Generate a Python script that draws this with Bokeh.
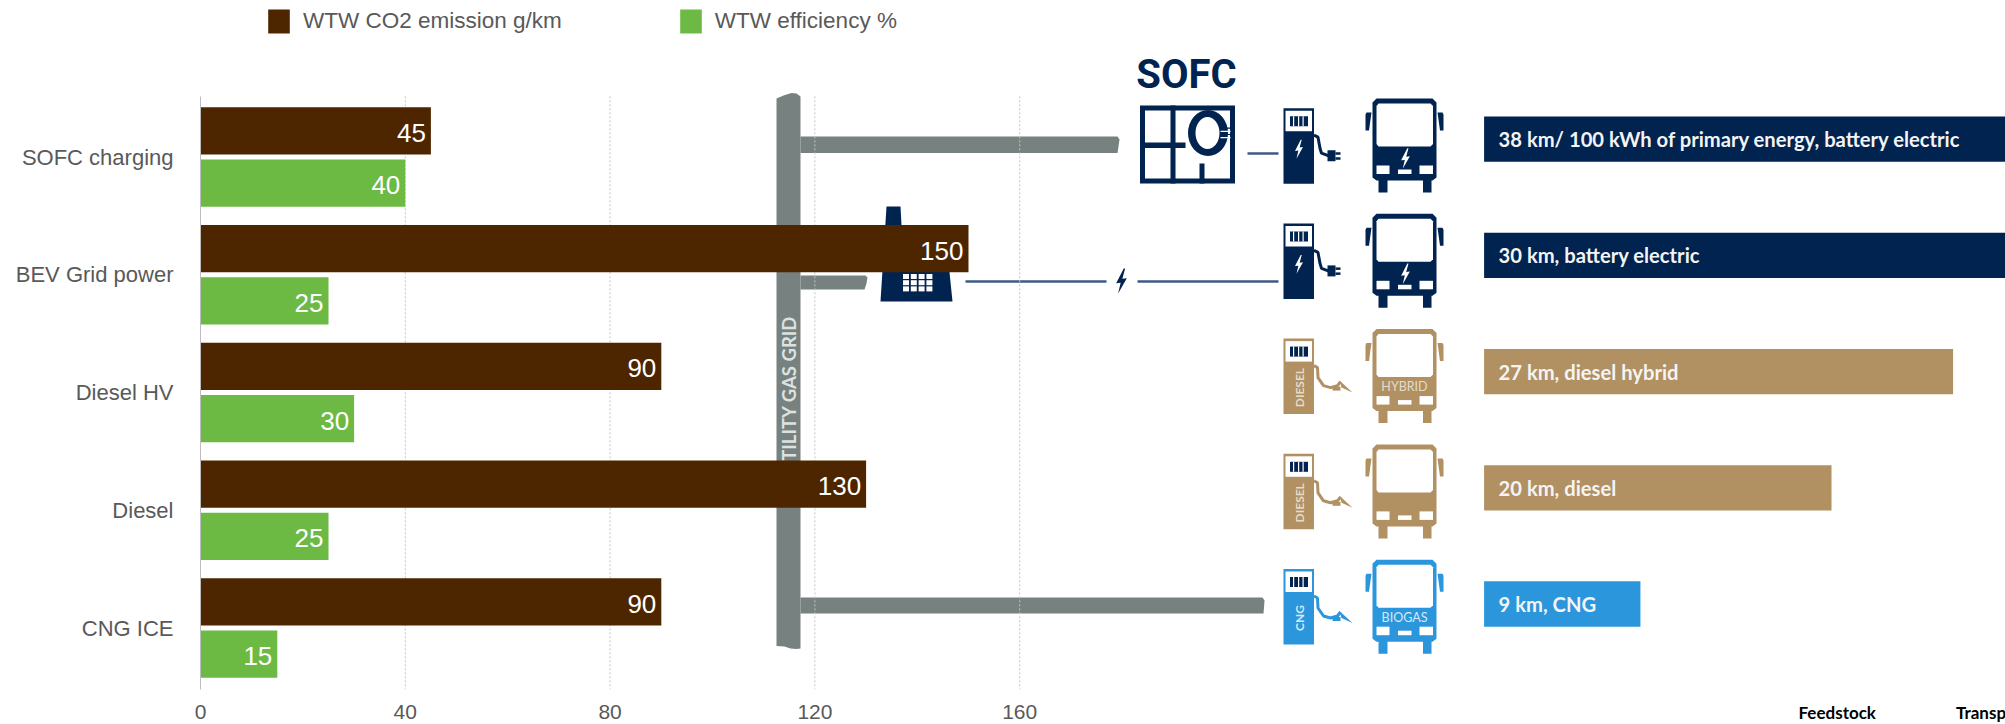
import numpy as np
from bokeh.core.properties import value
from bokeh.embed import file_html
from bokeh.models import ColumnDataSource, FixedTicker, LinearAxis, Range1d
from bokeh.plotting import figure
from bokeh.resources import INLINE

# Well-to-wheel comparison per powertrain
categories = ["SOFC charging", "BEV Grid power", "Diesel HV", "Diesel", "CNG ICE"]
co2_emission = [45, 150, 90, 130, 90]
efficiency = [40, 25, 30, 25, 15]
value_ticks = [0, 40, 80, 120, 160]

# Range per 100 kWh of primary energy, for each pathway
route_km = [38, 30, 27, 20, 9]
route_labels = [
    "38 km/ 100 kWh of primary energy, battery electric",
    "30 km, battery electric",
    "27 km, diesel hybrid",
    "20 km, diesel",
    "9 km, CNG",
]

BROWN, GREEN = "#4d2600", "#6cb943"
NAVY, TAN, BLUE = "#00234f", "#b19062", "#2c96dc"
PIPE, WIRE, GREY_TEXT = "#778280", "#3f5a85", "#595959"
route_colors = [NAVY, NAVY, TAN, TAN, BLUE]

# The frame fills the page down to its lower edge; the value axis labels sit inside it
W, H, LEFT = 2005, 724, 200
FRAME_H = H

p = figure(
    width=W, height=H, output_backend="svg", toolbar_location=None,
    x_range=Range1d(0, (W - LEFT) / 5.12),
    y_range=Range1d((FRAME_H - 156.5) / 117.75, -156.5 / 117.75),
    min_border_left=LEFT, min_border_right=0, min_border_top=0, min_border_bottom=0,
    x_axis_type=None, y_axis_type=None,
)
p.outline_line_color = None
p.grid.visible = False
p.background_fill_color = "white"

# Extra scales: page pixels for the pictograms, km for the range bars
p.extra_x_ranges["px"] = Range1d(LEFT, W)
p.extra_y_ranges["px"] = Range1d(FRAME_H, 0)
km_zero, km_scale = 1483.6, 17.37
p.extra_x_ranges["km"] = Range1d((LEFT - km_zero) / km_scale, (W - km_zero) / km_scale)
p.extra_y_ranges["route"] = Range1d((FRAME_H - 138.7) / 116.2, -138.7 / 116.2)

PX = dict(x_range_name="px", y_range_name="px")


def poly(xs, ys, color):
    p.patch(list(xs), list(ys), fill_color=color, line_color=None, **PX)


def box(x0, y0, x1, y1, color):
    p.quad(left=x0, right=x1, top=y0, bottom=y1, fill_color=color, line_color=None, **PX)


def line(xs, ys, color, width):
    p.line(list(xs), list(ys), line_color=color, line_width=width, **PX)


def caption(x, y, text, color, size, font="Lato", style="bold", align="center", angle=0.0):
    p.text([x], [y], text=[text], text_color=color, text_font=value(font),
           text_font_size=size, text_font_style=style, text_align=align,
           text_baseline="middle", angle=angle, **PX)


def bolt(cx, cy, scale, color):
    dx = np.array([1.6, -3.8, -0.6, -2.4, 3.8, 0.6, 2.6]) * scale
    dy = np.array([-9.0, 1.6, 1.2, 9.0, -2.0, -1.6, -9.0]) * scale
    poly(cx + dx, cy + dy, color)


def pump(top, color, tag):
    x0, x1 = 1283.0, 1313.5
    box(x0, top, x1, top + 75.5, color)
    box(x0 + 2, top + 2.5, x1 - 2, top + 23, "white")
    box(x0 + 6.5, top + 8, x1 - 6, top + 18, NAVY)
    for shift in (9.5, 14.5, 19):
        box(x0 + shift, top + 8, x0 + shift + 1.2, top + 18, "white")
    if tag is None:
        bolt(1298.5, top + 41, 1.05, "white")
        line([x1, 1317.5, 1319.5, 1321, 1329], [top + 27, top + 29, top + 40, top + 45, top + 48], color, 3)
        box(1327, top + 42, 1335, top + 53, color)
        box(1335, top + 44, 1340, top + 46.5, color)
        box(1335, top + 49, 1340, top + 51.5, color)
    else:
        caption(1298.5, top + 49, tag, "#e4dccb" if color == TAN else "#d5e9f8", "12px", angle=np.pi / 2)
        line([x1, 1317, 1317.5, 1323, 1330, 1337, 1340],
             [top + 27, top + 29, top + 39, top + 47, top + 49, top + 47, top + 43], color, 3)
        poly([1339, 1352, 1341], [top + 42, top + 54, top + 49], color)
        box(1332, top + 48, 1340, top + 52, color)


def bus(top, color, tag):
    x0 = 1372.0
    bx = x0 + np.array([4, 60, 64, 64, 60, 59, 59, 50.5, 50.5, 15, 15, 6, 6, 4, 0, 0, 4])
    by = top + np.array([0, 0, 4, 79, 82, 82, 94, 94, 82, 82, 94, 94, 82, 82, 79, 4, 0])
    poly(bx, by, color)
    wx = x0 + np.array([6, 58, 60.5, 60.5, 58, 6, 4, 4, 6])
    wy = top + np.array([5, 5, 7.5, 45.5, 48, 48, 45.5, 7.5, 5])
    poly(wx, wy, "white")
    box(x0 + 4, top + 67, x0 + 17, top + 75.5, "white")
    box(x0 + 25.5, top + 71, x0 + 39, top + 75.5, "white")
    box(x0 + 47, top + 67, x0 + 60.5, top + 75.5, "white")
    poly(x0 + np.array([-1, -6, -7, -7, -3.5, -2, -1]), top + np.array([14, 14, 16, 32, 32, 21, 14]), color)
    poly(x0 + np.array([65, 70, 71, 71, 67.5, 66, 65]), top + np.array([14, 14, 16, 32, 32, 21, 14]), color)
    if tag == "bolt":
        bolt(1405, top + 60, 1.15, "white")
    elif tag:
        caption(x0 + 32, top + 57.5, tag, "#e4dccb" if color == TAN else "#d5e9f8", "12.5px", style="normal")


# Gas grid: main pipe and its three branches
poly([776, 776, 783, 791, 796, 800, 800, 796, 790, 784, 776],
     [648, 98, 95, 92.5, 93, 96, 648, 648.5, 648, 646, 645.5], PIPE)
poly([800, 1117, 1119, 1118, 1117, 800], [136, 136, 139, 146, 152.5, 152.5], PIPE)
poly([800, 865, 867, 866, 864, 800], [275, 275, 277, 283, 289, 289], PIPE)
poly([800, 1262, 1264, 1263.5, 1263, 800], [597, 597, 600, 607, 613, 613], PIPE)
caption(788, 474, "UTILITY GAS GRID", "#dde2e1", "18.5px", style="bold", align="left", angle=np.pi / 2)

# SOFC unit
caption(1186, 74, "SOFC", NAVY, "40px", font="Roboto", style="bold")
box(1139.5, 105, 1234.5, 183, NAVY)
box(1144.5, 110, 1229.5, 178, "white")
box(1170, 105, 1175, 183, NAVY)
box(1139.5, 142, 1185, 147.5, NAVY)
box(1199, 163, 1204, 183, NAVY)
p.ellipse([1207.5], [132.5], width=[40], height=[46], fill_color=NAVY, line_color=None, **PX)
p.ellipse([1207], [132.5], width=[24], height=[32], fill_color="white", line_color=None, **PX)
for fin in range(4):
    box(1220, 127 + fin * 3.2, 1230, 128.2 + fin * 3.2, "white" if fin % 2 else NAVY)
line([1247, 1278], [153, 153], WIRE, 2.5)

# Power plant and the wire to the charger
poly([886, 900, 903, 948, 952, 880], [206, 206, 262, 262, 301, 301], NAVY)
for col in range(4):
    for row in range(3):
        box(902.5 + col * 7.8, 273.5 + row * 6.2, 908.5 + col * 7.8, 278.5 + row * 6.2, "white")
line([965, 1106], [281, 281], WIRE, 2.5)
line([1137, 1278], [281, 281], WIRE, 2.5)
bolt(1121, 280.5, 1.4, NAVY)

# One charger or pump and one bus per route
pump_tags = [None, None, "DIESEL", "DIESEL", "CNG"]
bus_tags = ["bolt", "bolt", "HYBRID", "", "BIOGAS"]
for i in range(5):
    pump(107.7 + 115.2 * i, route_colors[i], pump_tags[i])
    bus(98 + 115.3 * i, route_colors[i], bus_tags[i])

# Stage captions along the lower edge
caption(1798, 712, "Feedstock", "black", "17px", align="left")
caption(1955.5, 712, "Transp", "black", "17px", align="left")

# Dashed guides for the value axis
guide_ticks = value_ticks[1:]
p.segment(x0=guide_ticks, x1=guide_ticks, y0=[-0.515] * 4, y1=[4.52] * 4,
          line_color="#c4c4c4", line_width=1, line_dash="2 2")

# Grouped horizontal bars
ypos = np.arange(len(categories))
co2_src = ColumnDataSource(dict(y=ypos - 0.222, v=co2_emission, t=[str(v) for v in co2_emission]))
eff_src = ColumnDataSource(dict(y=ypos + 0.222, v=efficiency, t=[str(v) for v in efficiency]))
p.hbar(y="y", right="v", left=0, height=0.4, source=co2_src, fill_color=BROWN, line_color=None,
       legend_label="WTW CO2 emission g/km")
p.hbar(y="y", right="v", left=0, height=0.4, source=eff_src, fill_color=GREEN, line_color=None,
       legend_label="WTW efficiency %")
for src in (co2_src, eff_src):
    p.text(x="v", y="y", text="t", source=src, x_offset=-5, y_offset=2, text_color="white",
           text_align="right", text_baseline="middle", text_font=value("Liberation Sans"),
           text_font_size="26px")

# Range bars on the right
route_y = list(range(len(route_km)))
route_src = ColumnDataSource(dict(y=route_y, km=route_km, c=route_colors, t=route_labels))
p.hbar(y="y", right="km", left=0, height=0.39, source=route_src, fill_color="c", line_color=None,
       x_range_name="km", y_range_name="route")
p.text(x=0, y="y", text="t", source=route_src, x_offset=14.5, text_color="#f4f4f4", text_align="left",
       text_baseline="middle", text_font=value("Lato"), text_font_style="bold", text_font_size="20.2px",
       x_range_name="km", y_range_name="route")

# Axes; a negative standoff lifts the value labels back above the page edge
x_axis = LinearAxis(ticker=FixedTicker(ticks=value_ticks), axis_line_color=None,
                    major_tick_line_color=None, minor_tick_line_color=None,
                    major_label_text_color=GREY_TEXT, major_label_text_font="Liberation Sans",
                    major_label_text_font_size="21px", major_label_standoff=-26)
p.add_layout(x_axis, "below")
y_axis = LinearAxis(ticker=FixedTicker(ticks=list(range(len(categories)))),
                    major_label_overrides={i: c for i, c in enumerate(categories)},
                    bounds=(-0.515, 4.52), axis_line_color="#bdbdbd", axis_line_width=1,
                    major_tick_line_color=None, minor_tick_line_color=None,
                    major_label_text_color=GREY_TEXT, major_label_text_font="Liberation Sans",
                    major_label_text_font_size="22px", major_label_standoff=21)
p.add_layout(y_axis, "left")

# Legend above the bars; box glyphs are inset by a tenth on each side
legend = p.legend[0]
legend.orientation = "horizontal"
legend.location = (65, FRAME_H - 36)
legend.padding = 0
legend.margin = 0
legend.spacing = 115
legend.glyph_width = 27
legend.glyph_height = 30
legend.label_standoff = 11
legend.border_line_color = None
legend.background_fill_alpha = 0
legend.label_text_font = "Liberation Sans"
legend.label_text_font_size = "22.5px"
legend.label_text_color = GREY_TEXT

open("out.html", "w").write(file_html(p, INLINE))
